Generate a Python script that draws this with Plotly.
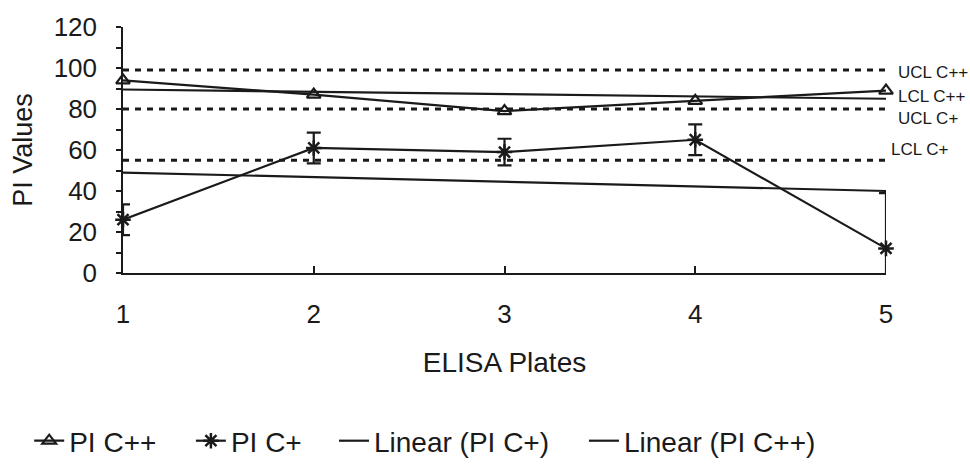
import plotly.graph_objects as go

# ---- data ----
plates = [1, 2, 3, 4, 5]
pi_cpp = [94, 87, 79, 84, 89]            # PI C++ (triangles)
pi_cp = [26, 61, 59, 65, 12]             # PI C+ (stars)
pi_cp_err_plus = [7.5, 7.5, 6.5, 7.5, 27]
pi_cp_err_minus = [7.5, 7.5, 6.5, 7.5, 13.5]
trend_x = [1, 5]
trend_cp = [49, 40]                      # Linear (PI C+)
trend_cpp = [89.5, 85]                   # Linear (PI C++)
limit_values = [99, 80, 55]              # dashed control-limit lines
limit_labels = ["UCL C++", "LCL C++", "UCL C+", "LCL C+"]
limit_label_y = [98, 86, 75.5, 60.3]
limit_label_x = [1.013, 1.013, 1.013, 1.004]
y_ticks = [0, 20, 40, 60, 80, 100, 120]

FONT = "Liberation Sans, Arial, sans-serif"
INK = "#1a1a1a"

fig = go.Figure()

for v in limit_values:
    fig.add_trace(go.Scatter(
        x=trend_x, y=[v, v], mode="lines", showlegend=False, hoverinfo="skip",
        line=dict(color=INK, width=3, dash="6px,6px")))

fig.add_trace(go.Scatter(
    x=plates, y=pi_cpp, mode="lines+markers", name="PI C++", legend="legend",
    line=dict(color=INK, width=2.2),
    marker=dict(symbol="triangle-up-open", size=12, color=INK, line=dict(width=2.2, color=INK)),
    cliponaxis=False))

fig.add_trace(go.Scatter(
    x=plates, y=pi_cp, mode="lines+markers", name="PI C+", legend="legend2",
    line=dict(color=INK, width=2.2),
    marker=dict(symbol="asterisk-open", size=13, color=INK, line=dict(width=2.5, color=INK)),
    error_y=dict(type="data", symmetric=False, array=pi_cp_err_plus,
                 arrayminus=pi_cp_err_minus, color=INK, thickness=2.2, width=7),
    cliponaxis=False))

fig.add_trace(go.Scatter(
    x=trend_x, y=trend_cp, mode="lines", name="Linear (PI C+)", legend="legend3",
    line=dict(color=INK, width=2.2)))

fig.add_trace(go.Scatter(
    x=trend_x, y=trend_cpp, mode="lines", name="Linear (PI C++)", legend="legend4",
    line=dict(color=INK, width=2.2)))

for lab, ly, lx in zip(limit_labels, limit_label_y, limit_label_x):
    fig.add_annotation(x=lx, xref="paper", y=ly, yref="y", text=lab, showarrow=False,
                       xanchor="left", yanchor="middle",
                       font=dict(family=FONT, size=17, color=INK))

leg_font = dict(family=FONT, size=28, color=INK)
leg_common = dict(orientation="h", xref="container", yref="container",
                  xanchor="left", y=0.0577, yanchor="middle",
                  font=leg_font, bgcolor="rgba(0,0,0,0)")

fig.update_layout(
    width=970, height=468,
    margin=dict(l=123, r=84, t=27, b=195),
    paper_bgcolor="white", plot_bgcolor="white",
    font=dict(family=FONT, size=26, color=INK),
    showlegend=True,
    legend=dict(x=0.0301, **leg_common),
    legend2=dict(x=0.1968, **leg_common),
    legend3=dict(x=0.3443, **leg_common),
    legend4=dict(x=0.6020, **leg_common),
)

fig.update_xaxes(
    range=[1, 5], tickvals=plates, ticktext=[str(p) for p in plates],
    showgrid=False, zeroline=False, showline=True, linecolor=INK, linewidth=1.5,
    ticks="inside", ticklen=7, tickcolor=INK, tickwidth=1.5,
    tickfont=dict(family=FONT, size=26, color=INK), ticklabelstandoff=17,
    title=dict(text="ELISA Plates", font=dict(family=FONT, size=28, color=INK), standoff=24),
    automargin=False)

fig.update_yaxes(
    range=[0, 120], tickvals=y_ticks,
    showgrid=False, zeroline=False, showline=True, linecolor=INK, linewidth=1.5,
    ticks="outside", ticklen=5, tickcolor=INK, tickwidth=1.5,
    minor=dict(dtick=10, ticks="outside", ticklen=5, tickcolor=INK, tickwidth=1.5, showgrid=False),
    tickfont=dict(family=FONT, size=26, color=INK), ticklabelstandoff=14,
    title=dict(text="PI Values", font=dict(family=FONT, size=27, color=INK), standoff=13),
    automargin=False)

fig.write_html("out.html")
